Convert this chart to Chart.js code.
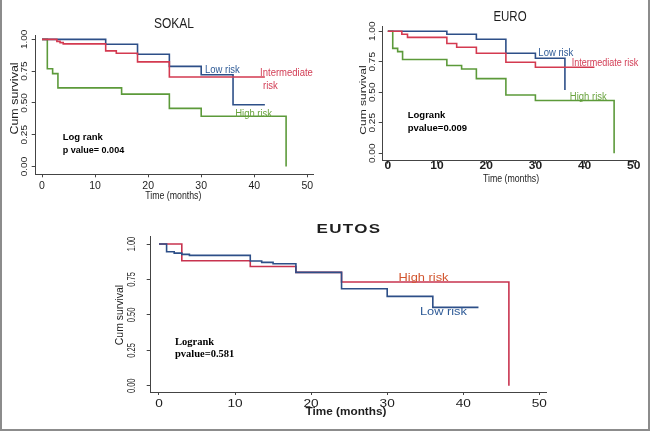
<!DOCTYPE html>
<html>
<head>
<meta charset="utf-8">
<script src="https://cdn.jsdelivr.net/npm/chart.js@4.4.1/dist/chart.umd.min.js"></script>
<style>
  html, body { margin: 0; padding: 0; background: #fff; }
  #wrap { position: relative; width: 650px; height: 431px; overflow: hidden; }
  #wrap canvas { position: absolute; left: 0; top: 0; }
  #frame { position: absolute; left: 0; top: 0; width: 646px; height: 429px;
           border: 2px solid #8c8c8c; border-top: none; }
</style>
</head>
<body>
<div id="wrap">
  <canvas id="sokal" width="650" height="431"></canvas>
  <canvas id="euro" width="650" height="431"></canvas>
  <canvas id="eutos" width="650" height="431"></canvas>
  <div id="frame"></div>
</div>
<script>
// tick values shared by all three panels
const timeTicks = [0, 10, 20, 30, 40, 50];
const survTicks = [0, 0.25, 0.5, 0.75, 1];

// SOKAL - event times (months) and cumulative survival after each step
const sokalLowT = [0, 12, 18, 24, 30, 36, 42];
const sokalLowS = [1, 0.961, 0.883, 0.787, 0.722, 0.486, 0.486];
const sokalMidT = [0, 2.8, 3.4, 4, 12, 14, 18, 24, 42];
const sokalMidS = [1, 0.984, 0.974, 0.964, 0.909, 0.891, 0.823, 0.704, 0.704];
const sokalHighT = [0, 1, 2, 3, 15, 24, 30, 46];
const sokalHighS = [1, 0.769, 0.730, 0.618, 0.569, 0.457, 0.395, 0];

// EURO
const euroLowT = [0, 12, 18, 24, 30, 36];
const euroLowS = [1, 0.975, 0.934, 0.82, 0.779, 0.519];
const euroMidT = [0, 2.85, 4, 12, 14, 18, 24, 30, 42];
const euroMidS = [1, 0.975, 0.95, 0.90, 0.869, 0.82, 0.746, 0.705, 0.705];
const euroHighT = [0, 1, 2, 3, 12, 15, 18, 24, 30, 46];
const euroHighS = [1, 0.86, 0.833, 0.768, 0.719, 0.691, 0.612, 0.478, 0.432, 0];

// EUTOS
const eutosLowT = [0, 1, 2, 3, 4, 12, 13.5, 15, 18, 24, 30, 36, 42];
const eutosLowS = [1, 0.946, 0.936, 0.927, 0.92, 0.88, 0.871, 0.861, 0.80, 0.685, 0.631, 0.553, 0.553];
const eutosHighT = [0, 3, 12, 18, 24, 46];
const eutosHighS = [1, 0.882, 0.842, 0.80, 0.732, 0];

const BLUE = '#2d4f88', RED = '#d43a50', GREEN = '#5c9a3a';
const SANS = '"Liberation Sans", Arial, sans-serif';
const SERIF = '"Liberation Serif", "Times New Roman", serif';

function pts(t, s) {
    return t.map((x, i) => ({ x: x, y: s[i] }));
}

function drawText(ctx, str, x, y, f) {
    ctx.save();
    ctx.translate(x, y);
    ctx.scale(f.sx || 1, f.sy || 1);
    if (f.rot) ctx.rotate(f.rot);
    ctx.font = f.font;
    ctx.letterSpacing = f.ls || '0px';
    ctx.fillStyle = f.color || '#1e1e1e';
    ctx.textAlign = f.align || 'center';
    ctx.textBaseline = f.base || 'middle';
    ctx.fillText(str, 0, 0);
    ctx.restore();
}

// draws titles, tick labels and the notes inside each panel
const panelText = {
    id: 'panelText',
    afterDraw(chart, args, o) {
        const ctx = chart.ctx;
        const xs = chart.scales.x, ys = chart.scales.y;
        timeTicks.forEach(v => drawText(ctx, String(v), xs.getPixelForValue(v), o.xTickY, o.xTickFont));
        survTicks.forEach(v => drawText(ctx, v.toFixed(2), o.yTickX, ys.getPixelForValue(v),
            Object.assign({ rot: -Math.PI / 2 }, o.yTickFont)));
        drawText(ctx, o.title.text, o.title.x, o.title.y, o.title);
        drawText(ctx, 'Time (months)', o.xTitle.x, o.xTitle.y, o.xTitle);
        drawText(ctx, 'Cum survival', o.yTitle.x, o.yTitle.y, Object.assign({ rot: -Math.PI / 2 }, o.yTitle));
        o.notes.forEach(n => drawText(ctx, n.text, xs.getPixelForValue(n.t), ys.getPixelForValue(n.v),
            Object.assign({ align: 'left' }, n)));
    }
};

function makePanel(id, datasets, area, range, panel) {
    const line = (d) => Object.assign({
        stepped: true, pointRadius: 0, borderWidth: 1.6, fill: false
    }, d);
    return new Chart(document.getElementById(id), {
        type: 'line',
        data: { datasets: datasets.map(line) },
        options: {
            responsive: false,
            animation: false,
            devicePixelRatio: 1,
            layout: { padding: area },
            scales: {
                x: {
                    type: 'linear', min: range[0], max: range[1],
                    afterBuildTicks: s => { s.ticks = timeTicks.map(v => ({ value: v })); },
                    afterFit: s => { s.height = 0; s.paddingLeft = 0; s.paddingRight = 0; },
                    grid: { drawOnChartArea: false, tickLength: 3, color: '#444' },
                    border: { color: '#444', width: 1 },
                    ticks: { display: false }
                },
                y: {
                    min: range[2], max: range[3],
                    afterBuildTicks: s => { s.ticks = survTicks.map(v => ({ value: v })); },
                    afterFit: s => { s.width = 0; s.paddingTop = 0; s.paddingBottom = 0; },
                    grid: { drawOnChartArea: false, tickLength: 4, color: '#444' },
                    border: { color: '#444', width: 1 },
                    ticks: { display: false }
                }
            },
            plugins: {
                legend: { display: false },
                tooltip: { enabled: false },
                panelText: panel
            }
        },
        plugins: [panelText]
    });
}

makePanel('sokal', [
    { data: pts(sokalMidT, sokalMidS), borderColor: RED },
    { data: pts(sokalLowT, sokalLowS), borderColor: BLUE },
    { data: pts(sokalHighT, sokalHighS), borderColor: GREEN }
], { left: 35.7, top: 35, right: 337, bottom: 256.7 }, [-1.19, 51.07, -0.061, 1.034], {
    title: { text: 'SOKAL', x: 174, y: 24, font: '15px ' + SANS, sx: 0.8 },
    xTickY: 186.3, xTickFont: { font: '10px ' + SANS, sx: 1.05 },
    yTickX: 24.5, yTickFont: { font: '10px ' + SANS, sx: 0.85 },
    xTitle: { x: 173.3, y: 196.5, font: '10.7px ' + SANS, sx: 0.82 },
    yTitle: { x: 15, y: 98.5, font: '12.5px ' + SANS, sx: 0.8 },
    notes: [
        { text: 'Low risk', t: 30.7, v: 0.755, font: '10px ' + SANS, sx: 0.95, color: '#2f5b97' },
        { text: 'Intermediate', t: 41.1, v: 0.732, font: '10px ' + SANS, sx: 0.95, color: '#d23d55' },
        { text: 'risk', t: 41.65, v: 0.631, font: '10px ' + SANS, sx: 0.95, color: '#d23d55' },
        { text: 'High risk', t: 36.4, v: 0.414, font: '10px ' + SANS, sx: 0.95, color: '#6aa33f' },
        { text: 'Log rank', t: 3.9, v: 0.231, font: 'bold 9.5px ' + SANS, color: '#000' },
        { text: 'p value= 0.004', t: 3.9, v: 0.129, font: 'bold 9.5px ' + SANS, sx: 0.95, color: '#000' }
    ]
});

makePanel('euro', [
    { data: pts(euroMidT, euroMidS), borderColor: RED },
    { data: pts(euroLowT, euroLowS), borderColor: BLUE },
    { data: pts(euroHighT, euroHighS), borderColor: GREEN }
], { left: 382.7, top: 26, right: 13.5, bottom: 270.3 }, [-1.04, 50.55, -0.061, 1.043], {
    title: { text: 'EURO', x: 510, y: 16.7, font: '14px ' + SANS, sx: 0.82 },
    xTickY: 166.7, xTickFont: { font: 'bold 10px ' + SANS, sx: 1.2 },
    yTickX: 372.5, yTickFont: { font: '10px ' + SANS, sx: 0.85 },
    xTitle: { x: 511, y: 179, font: '10.7px ' + SANS, sx: 0.82 },
    yTitle: { x: 363.3, y: 100, font: '12px ' + SANS, sx: 0.8 },
    notes: [
        { text: 'Low risk', t: 30.6, v: 0.816, font: '10px ' + SANS, sx: 0.95, color: '#2f5b97' },
        { text: 'Intermediate risk', t: 37.4, v: 0.734, font: '10px ' + SANS, sx: 0.9, color: '#d23d55' },
        { text: 'High risk', t: 37.0, v: 0.456, font: '10px ' + SANS, sx: 0.95, color: '#6aa33f' },
        { text: 'Logrank', t: 4.05, v: 0.314, font: 'bold 9.5px ' + SANS, color: '#000' },
        { text: 'pvalue=0.009', t: 4.05, v: 0.207, font: 'bold 9.5px ' + SANS, color: '#000' }
    ]
});

makePanel('eutos', [
    { data: pts(eutosLowT, eutosLowS), borderColor: BLUE },
    { data: pts(eutosHighT, eutosHighS), borderColor: '#c8334f' }
], { left: 150.7, top: 236.7, right: 103.3, bottom: 39 }, [-1.09, 50.97, -0.044, 1.052], {
    title: { text: 'EUTOS', x: 349, y: 229.5, font: 'bold 12.6px ' + SANS, sx: 1.35, ls: '1px' },
    xTickY: 404, xTickFont: { font: '10.5px ' + SANS, sx: 1.3 },
    yTickX: 132, yTickFont: { font: '10px ' + SANS, sy: 0.75 },
    xTitle: { x: 346, y: 412, font: 'bold 11px ' + SANS, sx: 1.07 },
    yTitle: { x: 120, y: 315, font: '11px ' + SANS, sy: 0.95 },
    notes: [
        { text: 'High risk', t: 31.5, v: 0.761, font: '10.7px ' + SANS, sx: 1.2, color: '#d2552e' },
        { text: 'Low risk', t: 34.3, v: 0.52, font: '10.7px ' + SANS, sx: 1.2, color: '#2f5b97' },
        { text: 'Logrank', t: 2.1, v: 0.31, font: 'bold 10.5px ' + SERIF, color: '#000' },
        { text: 'pvalue=0.581', t: 2.1, v: 0.224, font: 'bold 10.5px ' + SERIF, color: '#000' }
    ]
});
</script>
</body>
</html>
